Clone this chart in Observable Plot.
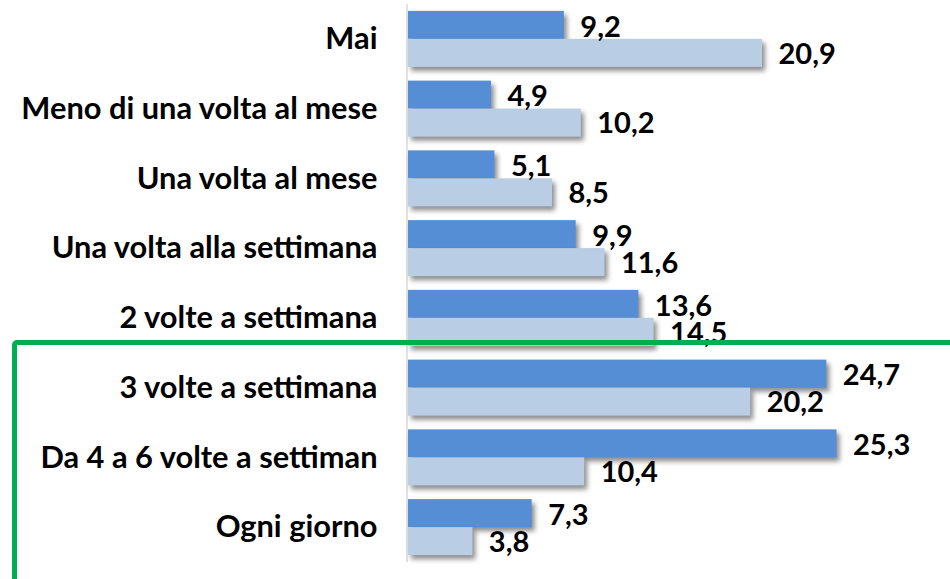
<!DOCTYPE html>
<html>
<head>
<meta charset="utf-8">
<script src="https://cdn.jsdelivr.net/npm/d3@7"></script>
<script src="https://cdn.jsdelivr.net/npm/@observablehq/plot@0.6"></script>
<style>
  html, body { margin: 0; padding: 0; background: #fff; }
  #wrap { position: relative; width: 950px; height: 579px; overflow: hidden; }
  #frame { position: absolute; left: 12px; top: 340px; width: 960px; height: 300px;
           border: 5px solid #00B050; border-radius: 5px; box-sizing: border-box; pointer-events: none; }
</style>
</head>
<body>
<div id="wrap"><div id="frame"></div></div>
<script>
const categories = ["Mai", "Meno di una volta al mese", "Una volta al mese", "Una volta alla settimana",
  "2 volte a settimana", "3 volte a settimana", "Da 4 a 6 volte a settiman", "Ogni giorno"];
const seriesNames = ["Serie 1", "Serie 2"];
const series1 = [9.2, 4.9, 5.1, 9.9, 13.6, 24.7, 25.3, 7.3];
const series2 = [20.9, 10.2, 8.5, 11.6, 14.5, 20.2, 10.4, 3.8];
const colors = ["#558ED5", "#B9CDE5"];

const rows1 = categories.map((c, i) => ({category: c, series: seriesNames[0], value: series1[i]}));
const rows2 = categories.map((c, i) => ({category: c, series: seriesNames[1], value: series2[i]}));
const fmt = v => v.toFixed(1).replace(".", ",");
const half = 28;

const chart = Plot.plot({
  width: 950,
  height: 579,
  marginLeft: 408,
  marginRight: 0,
  marginTop: 4,
  marginBottom: 17,
  style: {fontFamily: "Lato, sans-serif", fontWeight: "bold", fontSize: "30.8px", color: "#000", background: "transparent"},
  x: {domain: [0, 32], axis: null},
  y: {domain: categories, round: false, paddingInner: 0.197, paddingOuter: 0.0985, label: null, tickSize: 0, tickPadding: 31},
  color: {domain: seriesNames, range: colors},
  marks: [
    Plot.ruleX([0], {stroke: "#d9d9d9", strokeWidth: 1.5, dx: -1.5}),
    Plot.barX(rows1, {y: "category", x1: 0, x2: "value", fill: "series", insetBottom: half}),
    Plot.barX(rows2, {y: "category", x1: 0, x2: "value", fill: "series", insetTop: half}),
    Plot.text(rows1, {y: "category", x: "value", text: d => fmt(d.value),
      textAnchor: "start", dx: 16, dy: -half / 2 + 2, fontSize: 29, fontWeight: "bold", fill: "#000"}),
    Plot.text(rows2, {y: "category", x: "value", text: d => fmt(d.value),
      textAnchor: "start", dx: 16, dy: half / 2 + 1, fontSize: 29, fontWeight: "bold", fill: "#000"})
  ]
});
d3.select(chart).selectAll("g[aria-label=bar]").style("filter", "drop-shadow(3px 4px 2.5px rgba(0,0,0,0.45))");
document.getElementById("wrap").insertBefore(chart, document.getElementById("frame"));
</script>
</body>
</html>
